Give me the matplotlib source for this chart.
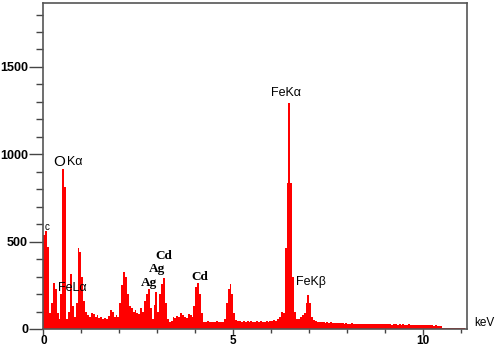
import numpy as np
import matplotlib.pyplot as plt

plt.rcParams['font.family'] = ['Liberation Sans', 'DejaVu Sans']

## spectrum, bins of 0.05 keV starting at 0
bin_width = 0.05
counts = [
    540, 560, 470, 90, 150, 262, 230, 90, 60, 200,        # 0.00 - 0.45
    915, 810, 60, 100, 315, 130, 70, 150, 463, 440,       # 0.50 - 0.95
    300, 160, 100, 80, 70, 90, 85, 70, 80, 65,            # 1.00 - 1.45
    70, 60, 65, 60, 75, 110, 100, 70, 80, 70,             # 1.50 - 1.95
    150, 250, 328, 300, 200, 130, 120, 100, 110, 90,      # 2.00 - 2.45
    85, 120, 100, 160, 200, 228, 120, 60, 140, 213,       # 2.50 - 2.95
    100, 200, 260, 294, 150, 60, 40, 45, 70, 65,          # 3.00 - 3.45
    75, 70, 90, 80, 70, 65, 85, 80, 70, 130,              # 3.50 - 3.95
    240, 262, 200, 90, 40, 40, 45, 40, 38, 42,            # 4.00 - 4.45
    40, 45, 40, 42, 40, 60, 150, 230, 258, 200,           # 4.50 - 4.95
    90, 50, 45, 48, 42, 45, 40, 44, 42, 45,               # 5.00 - 5.45
    40, 42, 45, 40, 44, 42, 40, 45, 42, 48,               # 5.50 - 5.95
    45, 50, 48, 55, 70, 100, 90, 463, 835, 1293,          # 6.00 - 6.45
    835, 300, 100, 60, 55, 70, 80, 90, 150, 195,          # 6.50 - 6.95
    150, 70, 50, 45, 40, 42, 38, 40, 36, 38,              # 7.00 - 7.45
    35, 38, 34, 36, 33, 35, 32, 34, 30, 33,               # 7.50 - 7.95
    31, 30, 32, 29, 31, 28, 30, 29, 31, 28,               # 8.00 - 8.45
    30, 28, 29, 27, 30, 28, 27, 29, 26, 28,               # 8.50 - 8.95
    27, 26, 28, 25, 27, 26, 25, 27, 24, 26,               # 9.00 - 9.45
    25, 24, 26, 23, 25, 24, 23, 25, 22, 24,               # 9.50 - 9.95
    23, 22, 24, 21, 22, 20, 21, 19, 20, 18,               # 10.00 - 10.45
    8, 7, 8, 6, 7, 6, 7, 5, 6, 5,                         # 10.50 - 10.95
    5, 4,                                                 # 11.00 - 11.05
]
energy = np.arange(len(counts)) * bin_width

## peak labels
lab_text = ["c", "FeLα", "FeKα", "FeKβ"]
lab_x = [0.04, 0.38, 5.99, 6.65]
lab_y = [585, 235, 1351, 269]
lab_size = [7, 9, 9, 9]

serif_text = ["Ag", "Ag", "Cd", "Cd"]
serif_x = [2.58, 2.79, 2.95, 3.89]
serif_y = [263, 343, 418, 298]

fig = plt.figure(figsize=(4.98, 3.48), dpi=100)
ax = fig.add_axes([0.087, 0.0546, 0.8508, 0.9368])

ax.bar(energy, counts, width=bin_width, align='edge', color='#ff0000', linewidth=0)

ax.set_xlim(0, 11.15)
ax.set_ylim(0, 1866)
ax.set_xticks([0, 5, 10])
ax.set_xticks(np.arange(0, 12, 1), minor=True)
ax.set_yticks([0, 500, 1000, 1500])
ax.set_yticks(np.arange(0, 1900, 100), minor=True)

ax.tick_params(axis='y', which='major', length=10, width=1, color='#444444', pad=1)
ax.tick_params(axis='y', which='minor', length=5, width=1, color='#444444')
ax.tick_params(axis='x', which='major', length=4, width=1, color='#444444', pad=0)
ax.tick_params(axis='x', which='minor', length=3, width=1, color='#444444')
for lbl in ax.get_yticklabels():
    lbl.set_fontsize(9)
    lbl.set_fontweight('bold')
for lbl in ax.get_xticklabels():
    lbl.set_fontsize(8.5)
    lbl.set_fontweight('bold')

for s in ax.spines.values():
    s.set_color('#555555')
    s.set_linewidth(1.2)

for t, x, y, fs in zip(lab_text, lab_x, lab_y, lab_size):
    ax.text(x, y, t, fontsize=fs, va='center', ha='left')

# O K-alpha: bigger O
ax.text(0.25, 955, "O", fontsize=11, va='center', ha='left')
ax.text(0.62, 955, "Kα", fontsize=9, va='center', ha='left')

for t, x, y in zip(serif_text, serif_x, serif_y):
    ax.text(x, y, t, fontsize=9.5, fontweight='bold', va='center', ha='left',
            family='Liberation Serif')

ax.text(11.35, 34, "keV", fontsize=8.5, va='center', ha='left', clip_on=False)

plt.savefig("out.png", dpi=100)
